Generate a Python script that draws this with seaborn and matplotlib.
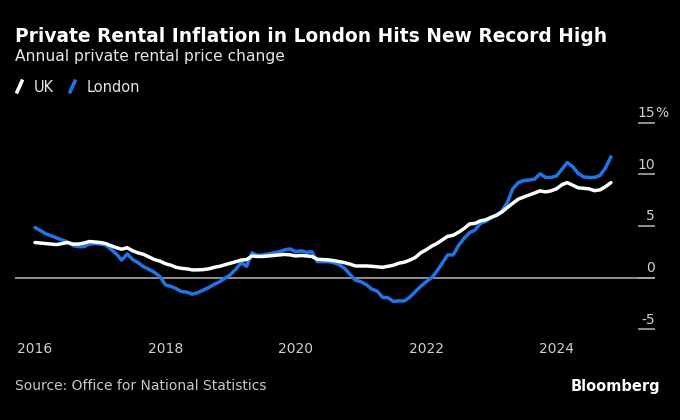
import matplotlib
matplotlib.use('Agg')
import matplotlib.pyplot as plt
import matplotlib.dates as mdates
from matplotlib.lines import Line2D
from matplotlib.path import Path
import matplotlib.transforms as mtransforms
import seaborn as sns
import pandas as pd

# Monthly annual % change, Jan 2016 - Nov 2024
uk = [3.4, 3.35, 3.3, 3.25, 3.2, 3.3, 3.4, 3.25, 3.25, 3.35, 3.5, 3.45,
      3.4, 3.3, 3.1, 2.9, 2.75, 2.9, 2.6, 2.4, 2.25, 2.0, 1.75, 1.6,
      1.35, 1.2, 1.0, 0.9, 0.85, 0.75, 0.75, 0.78, 0.85, 1.0, 1.1, 1.25,
      1.4, 1.55, 1.7, 1.75, 2.1, 2.05, 2.05, 2.1, 2.15, 2.2, 2.25, 2.2,
      2.1, 2.15, 2.1, 2.05, 1.78, 1.75, 1.72, 1.65, 1.55, 1.45, 1.3, 1.13,
      1.13, 1.13, 1.1, 1.05, 1.0, 1.1, 1.2, 1.4, 1.5, 1.7, 1.95, 2.4,
      2.7, 3.05, 3.3, 3.65, 4.0, 4.1, 4.4, 4.75, 5.2, 5.25, 5.5, 5.6,
      5.85, 6.05, 6.35, 6.8, 7.2, 7.6, 7.8, 8.0, 8.2, 8.4, 8.3, 8.4,
      8.6, 9.0, 9.2, 8.95, 8.7, 8.65, 8.6, 8.42, 8.5, 8.8, 9.2]

london = [4.85, 4.55, 4.25, 4.05, 3.85, 3.65, 3.45, 3.1, 3.0, 3.0, 3.25, 3.3,
          3.25, 3.15, 2.75, 2.3, 1.7, 2.3, 1.75, 1.45, 1.05, 0.8, 0.5, 0.1,
          -0.7, -0.85, -1.05, -1.35, -1.4, -1.6, -1.45, -1.2, -0.95, -0.65, -0.4, -0.05,
          0.3, 0.85, 1.45, 1.1, 2.4, 2.15, 2.2, 2.3, 2.4, 2.5, 2.7, 2.78,
          2.5, 2.6, 2.45, 2.5, 1.55, 1.55, 1.55, 1.45, 1.25, 0.9, 0.3, -0.25,
          -0.4, -0.7, -1.1, -1.3, -1.9, -1.95, -2.3, -2.25, -2.25, -1.9, -1.35, -0.85,
          -0.4, 0.0, 0.6, 1.4, 2.2, 2.2, 3.1, 3.8, 4.35, 4.6, 5.25, 5.45,
          5.8, 6.1, 6.45, 7.3, 8.6, 9.2, 9.4, 9.45, 9.55, 10.05, 9.7, 9.7,
          9.85, 10.5, 11.15, 10.75, 10.1, 9.75, 9.7, 9.7, 9.9, 10.6, 11.7]

dates = pd.date_range('2016-01-01', periods=len(uk), freq='MS')
y_ticks = [-5, 0, 5, 10, 15]

BG = 'black'
BLUE = '#1f74e6'
GREY = '#a8a8a8'

df = pd.DataFrame({'date': dates, 'UK': uk, 'London': london})

sns.set_style('dark')
plt.rcParams['font.family'] = ['DejaVu Sans']

fig = plt.figure(figsize=(6.8, 4.2), dpi=100, facecolor=BG)
ax = fig.add_axes([15/680, 1 - 329.3/420, 640/680, (329.3 - 122.7)/420])
ax.set_facecolor(BG)

ax.axhline(0, color=GREY, lw=1.2, zorder=1)
sns.lineplot(data=df, x='date', y='London', color=BLUE, lw=2.5, ax=ax, zorder=2)
sns.lineplot(data=df, x='date', y='UK', color='white', lw=2.5, ax=ax, zorder=3)

ax.set_xlim(pd.Timestamp('2015-09-11'), pd.Timestamp('2025-07-06'))
ax.set_ylim(-5, 15)
ax.grid(False)
for s in ax.spines.values():
    s.set_visible(False)
ax.set_xlabel('')
ax.set_ylabel('')

ax.xaxis.set_major_locator(mdates.YearLocator(2))
ax.xaxis.set_major_formatter(mdates.DateFormatter('%Y'))
ax.tick_params(axis='x', colors=GREY, labelcolor='#d0d0d0', direction='out',
               length=5, width=1, pad=4, labelsize=10)

ax.yaxis.tick_right()
ax.set_yticks(y_ticks)
ax.set_yticklabels([str(t) for t in y_ticks])
ax.tick_params(axis='y', colors=GREY, labelcolor='#d0d0d0', direction='in',
               length=12, width=1.2, pad=0, labelsize=10)
offset = mtransforms.ScaledTranslation(0, 2/72, fig.dpi_scale_trans)
for lab in ax.get_yticklabels():
    lab.set_horizontalalignment('right')
    lab.set_verticalalignment('bottom')
    lab.set_transform(lab.get_transform() + offset)
ax.text(1.0, 15, '%', ha='left', va='bottom', color='#d0d0d0',
        fontsize=10, transform=ax.get_yaxis_transform() + offset)

fig.text(15/680, 1 - 36/420, 'Private Rental Inflation in London Hits New Record High',
         color='white', fontsize=13.4, fontweight='bold', va='center', ha='left')
fig.text(15/680, 1 - 56/420, 'Annual private rental price change',
         color='#e6e6e6', fontsize=11.2, va='center', ha='left')

slash = Path([(-0.45, -1), (0.45, 1)], [Path.MOVETO, Path.LINETO])
handles = [Line2D([], [], color='white', marker=slash, linestyle='None',
                  markersize=10, markeredgewidth=2.6),
           Line2D([], [], color=BLUE, marker=slash, linestyle='None',
                  markersize=10, markeredgewidth=2.6)]
fig.legend(handles, ['UK', 'London'], loc='center left',
           bbox_to_anchor=(12/680, 1 - 87/420), ncol=2, frameon=False,
           borderpad=0, borderaxespad=0,
           labelcolor='#e6e6e6', fontsize=10.5, handlelength=1.0,
           handletextpad=0.5, columnspacing=0.75)

fig.text(15/680, 1 - 386/420, 'Source: Office for National Statistics',
         color='#c8c8c8', fontsize=10, va='center', ha='left')
fig.text(660/680, 1 - 386/420, 'Bloomberg', color='white', fontsize=10.5,
         fontweight='bold', va='center', ha='right')

fig.savefig('out.png', dpi=100, facecolor=BG)
